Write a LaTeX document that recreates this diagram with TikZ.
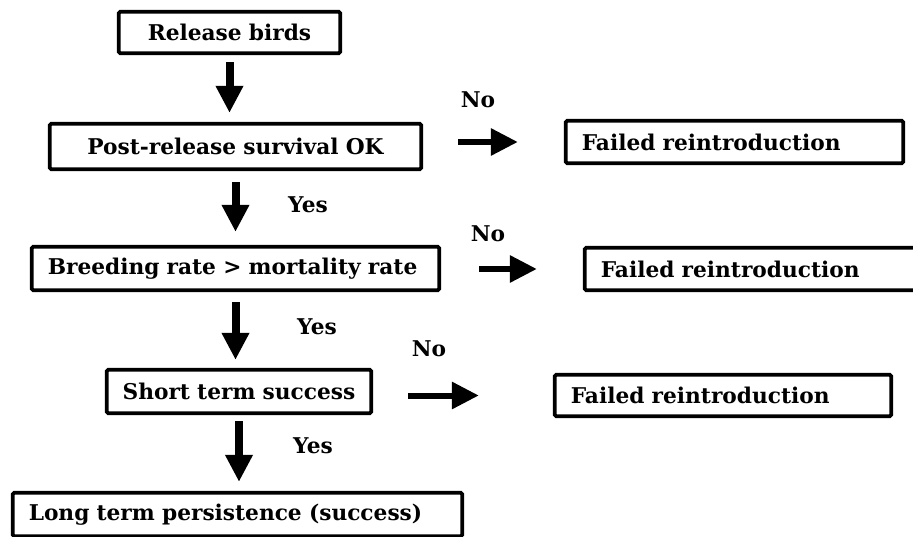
\documentclass[tikz,border=0pt]{standalone}
\usepackage{fontspec}
\setmainfont{DejaVu Serif}
\usetikzlibrary{arrows.meta}
\begin{document}
\begin{tikzpicture}
[x=1pt,y=-1pt,
  boxdecorate/.style={shape=rectangle,draw,line width=3.8pt,rounded corners=1.5pt,
    inner ysep=2pt,font=\bfseries\fontsize{21.7}{25}\selectfont},%
  labeldecorate/.style={font=\bfseries\fontsize{21.7}{25}\selectfont},%
  downdecorate/.style={-{Triangle[width=26pt,length=27pt]},line width=8pt},%
  rightdecorate/.style={-{Triangle[width=26pt,length=27pt]},line width=6pt}]
\useasboundingbox (0,0) rectangle (913,537);
\clip (0,0) rectangle (913,537);
%% boxes
\foreach \nodename/\x/\y/\boxwd/\boxht/\xsep/\algn/\txt in {
  release/229.5/32.5/189.5/41.5/16/center/Release birds,
  survival/235.5/146.5/339.5/45.5/16/center/Post-release survival OK,
  breeding/235.5/268.5/375.5/43.5/16/left/Breeding rate > mortality rate,
  short/239/391.5/256.5/43.5/4/center/Short term success,
  persist/237.5/514.5/417.5/43.5/16/left/Long term persistence (success),
  fail1/734.5/142/305.5/42.5/16/left/Failed reintroduction,
  fail2/753.5/269/305.5/42.5/16/left/Failed reintroduction,
  fail3/723/395.5/304.5/41.5/16/left/Failed reintroduction}
{
  \node (\nodename) at (\x,\y) [boxdecorate,text width=\boxwd pt,inner xsep=\xsep pt,
    minimum height=\boxht pt,align=\algn] {\txt};
}
%% yes and no labels
\foreach \labelname/\x/\y/\txt in {
  no1/478/100/No, no2/488/234/No, no3/429/349/No,
  yes1/308/205/Yes, yes2/317/327/Yes, yes3/313/446/Yes}
{
  \node (\labelname) at (\x,\y) [labeldecorate] {\txt};
}
%% arrows down the chain
\path
\foreach \startnode/\endnode/\gapa/\gapb in {
  release/survival/7/9, survival/breeding/11/13,
  breeding/short/10/8, short/persist/6/9} {
  (\startnode.south) edge[downdecorate,shorten <=\gapa pt,shorten >=\gapb pt]
    (\startnode.south |- \endnode.north)
};
%% arrows to failure
\path
\foreach \startnode/\endnode/\gapa/\gapb in {
  survival/fail1/35/46, breeding/fail2/38/46, short/fail3/35/74} {
  (\startnode.east |- \endnode.west) edge[rightdecorate,shorten <=\gapa pt,shorten >=\gapb pt]
    (\endnode.west)
};
\end{tikzpicture}
\end{document}
